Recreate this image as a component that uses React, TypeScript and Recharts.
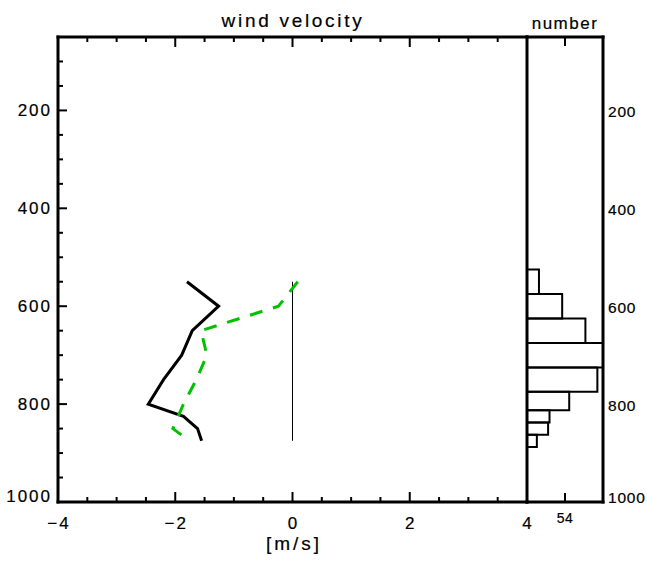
import React from "react";
import { LineChart, ComposedChart, Line, XAxis, YAxis, ReferenceLine, ReferenceArea } from "recharts";

// pressure levels (hPa) and the two wind profiles (m/s)
const LEVELS = [550, 600, 650, 700, 750, 800, 825, 850, 875];
const U_SOLID = [-1.8, -1.26, -1.71, -1.89, -2.2, -2.46, -1.86, -1.62, -1.55];
const U_DASHED = [0.09, -0.24, -1.56, -1.46, -1.64, -1.86, -1.95, -2.04, -1.76];

// histogram of sample numbers per pressure bin
const BIN_TOP = [525, 575, 625, 675, 725, 775, 812.5, 837.5, 862.5];
const BIN_BOTTOM = [575, 625, 675, 725, 775, 812.5, 837.5, 862.5, 887.5];
const BIN_COUNT = [17, 50, 83, 108, 100, 60, 32, 30, 14];

const X_LABELS = [-4, -2, 0, 2, 4];
const X_TICKS = [-4, -3.5, -3, -2.5, -2, -1.5, -1, -0.5, 0, 0.5, 1, 1.5, 2, 2.5, 3, 3.5, 4];
const P_LABELS = [200, 400, 600, 800, 1000];
const P_TICKS = [50, 100, 150, 200, 250, 300, 350, 400, 450, 500, 550, 600, 650, 700, 750, 800, 850, 900, 950, 1000];
const N_TICKS = [54];

const rows = LEVELS.map((p, i) => ({ p, solid: U_SOLID[i], dashed: U_DASHED[i] }));
const bins = BIN_COUNT.map((n, i) => ({ n, top: BIN_TOP[i], bottom: BIN_BOTTOM[i] }));

const W = 647;
const H = 561;
const FONT = "'Liberation Sans', Arial, Helvetica, sans-serif";
const AXIS = { stroke: "#000", strokeWidth: 3, strokeLinecap: "square" as const };
// a hair of stroke makes the glyphs as heavy as the reference's
const TXT = { fontFamily: FONT, fill: "#000", stroke: "#000", strokeWidth: 0.2 };
const fmt = (v: number) => (v < 0 ? "\u2212" + Math.abs(v) : String(v));

const LeftTick = ({ x, y, payload }: any) => {
  const v = payload.value;
  const major = P_LABELS.includes(v);
  return (
    <g>
      <line x1={x} x2={x + (major ? 9 : 5)} y1={y} y2={y} stroke="#000" strokeWidth={2} />
      {major && (
        <text x={x - 6} y={v === 1000 ? y : y + 6} textAnchor="end" fontSize={17} letterSpacing={2} {...TXT}>
          {v}
        </text>
      )}
    </g>
  );
};

const RightTick = ({ x, y, payload }: any) => {
  const major = P_LABELS.includes(payload.value);
  return <line x1={x} x2={x - (major ? 9 : 5)} y1={y} y2={y} stroke="#000" strokeWidth={2} />;
};

const TopTick = ({ x, y, payload }: any) => {
  const major = X_LABELS.includes(payload.value);
  return <line x1={x} x2={x} y1={y} y2={y + (major ? 10 : 5)} stroke="#000" strokeWidth={2} />;
};

const BottomTick = ({ x, y, payload }: any) => {
  const v = payload.value;
  const major = X_LABELS.includes(v);
  return (
    <g>
      <line x1={x} x2={x} y1={y} y2={y - (major ? 10 : 5)} stroke="#000" strokeWidth={2} />
      {major && (
        <text x={x + 1} y={y + 27} textAnchor="middle" fontSize={17} letterSpacing={2} {...TXT}>
          {fmt(v)}
        </text>
      )}
    </g>
  );
};

const HistRightTick = ({ x, y, payload }: any) => {
  const v = payload.value;
  return (
    <text x={x + 5} y={v === 1000 ? y + 1 : y + 7} fontSize={15.5} letterSpacing={0.8} {...TXT}>
      {v}
    </text>
  );
};

const HistTopTick = ({ x, y }: any) => <line x1={x} x2={x} y1={y} y2={y + 9} stroke="#000" strokeWidth={2} />;

const HistBottomTick = ({ x, y, payload }: any) => (
  <g>
    <line x1={x} x2={x} y1={y} y2={y - 9} stroke="#000" strokeWidth={2} />
    <text x={x} y={y + 21} textAnchor="middle" fontSize={14} letterSpacing={0.5} {...TXT}>
      {payload.value}
    </text>
  </g>
);

export default function App() {
  return (
    <div style={{ position: "absolute", left: 0, top: 0, width: W, height: H, background: "#fff" }}>
      {/* wind profile panel: plot area 58..527 x 37..501 */}
      <div style={{ position: "absolute", left: 0, top: 0 }}>
        <LineChart width={W} height={H} layout="vertical" data={rows} margin={{ top: 36, right: 119, bottom: 58, left: 57 }}>
          <XAxis type="number" domain={[-4, 4]} allowDataOverflow ticks={X_TICKS} interval={0} height={1}
            tickSize={0} tickMargin={0} axisLine={AXIS} tickLine={false} tick={(p: any) => <BottomTick {...p} />} />
          <XAxis xAxisId="top" orientation="top" type="number" domain={[-4, 4]} allowDataOverflow ticks={X_TICKS} interval={0}
            height={1} tickSize={0} tickMargin={0} axisLine={AXIS} tickLine={false} tick={(p: any) => <TopTick {...p} />} />
          <YAxis dataKey="p" type="number" domain={[50, 1000]} allowDataOverflow ticks={P_TICKS} interval={0} width={1}
            tickSize={0} tickMargin={0} axisLine={AXIS} tickLine={false} tick={(p: any) => <LeftTick {...p} />} />
          <YAxis yAxisId="right" orientation="right" type="number" domain={[50, 1000]} allowDataOverflow ticks={P_TICKS}
            interval={0} width={1} tickSize={0} tickMargin={0} axisLine={AXIS} tickLine={false} tick={(p: any) => <RightTick {...p} />} />
          <ReferenceLine segment={[{ x: 0, y: LEVELS[0] }, { x: 0, y: LEVELS[LEVELS.length - 1] }]} stroke="#000" strokeWidth={1} />
          <Line dataKey="solid" stroke="#000" strokeWidth={3} dot={false} isAnimationActive={false} />
          <Line dataKey="dashed" stroke="#00c000" strokeWidth={3} strokeDasharray="13 11" dot={false} isAnimationActive={false} />
        </LineChart>
      </div>

      {/* number histogram panel: plot area 527..603 */}
      <div style={{ position: "absolute", left: 0, top: 0 }}>
        <ComposedChart width={W} height={H} layout="vertical" data={bins} margin={{ top: 36, right: 43, bottom: 58, left: 527 }}>
          <XAxis type="number" dataKey="n" domain={[0, 108]} allowDataOverflow ticks={N_TICKS} interval={0} height={1}
            tickSize={0} tickMargin={0} axisLine={AXIS} tickLine={false} tick={(p: any) => <HistBottomTick {...p} />} />
          <XAxis xAxisId="top" orientation="top" type="number" domain={[0, 108]} allowDataOverflow ticks={N_TICKS} interval={0}
            height={1} tickSize={0} tickMargin={0} axisLine={AXIS} tickLine={false} tick={(p: any) => <HistTopTick {...p} />} />
          <YAxis orientation="right" type="number" dataKey="top" domain={[50, 1000]} allowDataOverflow ticks={P_LABELS} interval={0} width={1}
            tickSize={0} tickMargin={0} axisLine={AXIS} tickLine={false} tick={(p: any) => <HistRightTick {...p} />} />
          {bins.map((b, i) => (
            <ReferenceArea key={i} x1={0} x2={b.n} y1={b.top} y2={b.bottom} fill="none" fillOpacity={0}
              stroke="#000" strokeWidth={2} strokeOpacity={1} />
          ))}
        </ComposedChart>
      </div>

      {/* titles */}
      <svg width={W} height={H} style={{ position: "absolute", left: 0, top: 0, pointerEvents: "none" }}>
        <text x={293} y={27} textAnchor="middle" fontSize={19} letterSpacing={2.7} {...TXT}>wind velocity</text>
        <text x={565} y={29} textAnchor="middle" fontSize={17} letterSpacing={1.5} {...TXT}>number</text>
        <text x={294} y={550} textAnchor="middle" fontSize={19} letterSpacing={3} {...TXT}>[m/s]</text>
      </svg>
    </div>
  );
}
